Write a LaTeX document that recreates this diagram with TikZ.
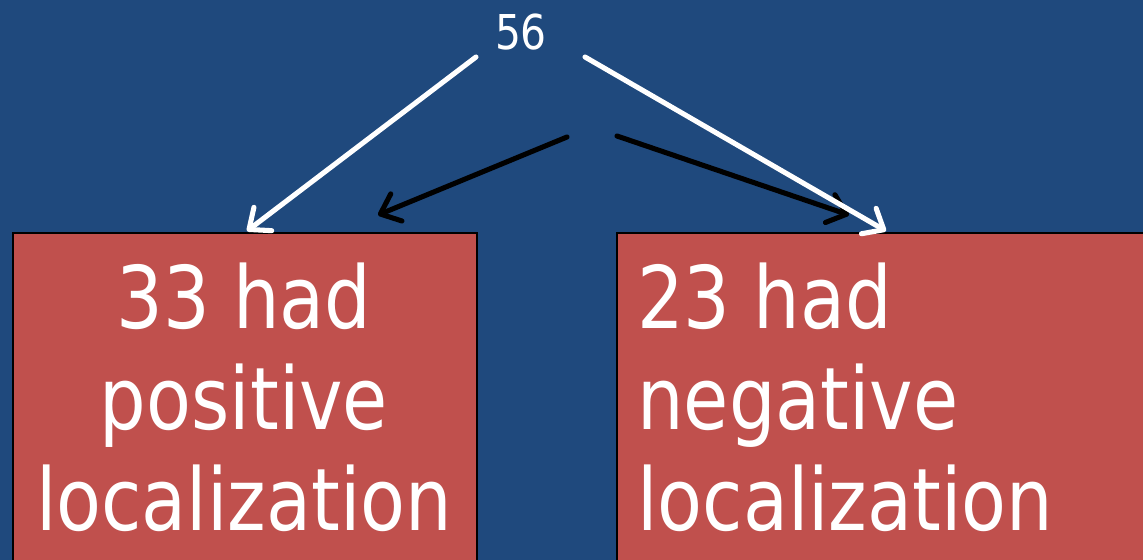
\documentclass[tikz,border=0pt]{standalone}
\usepackage{fontspec}
\setmainfont{DejaVu Sans}[FakeStretch=0.85]
\usetikzlibrary{arrows.meta}
\definecolor{bgblue}{RGB}{31,73,125}
\definecolor{boxred}{RGB}{192,80,77}
\tikzset{
  outcome/.style={draw=black, line width=1.2pt, fill=boxred, anchor=north west,
    minimum height=300pt, inner sep=0pt},
  boxtext/.style={text=white, inner sep=0pt, font=\fontsize{64.8}{75.75}\selectfont},
  flow/.style={line width=3.8pt, line cap=round, line join=round,
    -{Straight Barb[length=13pt,width=22pt,line cap=round,line join=round]}},
  whiteflow/.style={flow, draw=white},
  blackflow/.style={flow, draw=black},
}
\begin{document}
\begin{tikzpicture}[x=0.75pt,y=-0.75pt]
  \fill[bgblue] (0,0) rectangle (1143,560);
  \useasboundingbox (0,0) rectangle (1143,560);
  \clip (0,0) rectangle (1143,560);

  % total count
  \node[text=white, inner sep=0pt, anchor=base, font=\fontsize{36}{40}\selectfont]
    (total) at (521,50) {56};

  % the two outcome boxes
  \node[outcome, minimum width=348pt] (pos) at (12,232) {};
  \node[outcome, minimum width=420pt] (neg) at (616,232) {};

  % box labels, anchored at the baseline of their last line
  \node[boxtext, align=center, anchor=base] (postext) at (244,530)
    {33 had\\positive\\localization};
  \node[boxtext, align=left, anchor=base west] (negtext) at (637,530)
    {23 had\\negative\\localization};

  % arrow end points
  \coordinate (wlstart) at (476,57);
  \coordinate (wrstart) at (585,57);
  \coordinate (wlend) at (247,231);
  \coordinate (wrend) at (886,231);
  \coordinate (blstart) at (567,137);
  \coordinate (brstart) at (617,136);
  \coordinate (blend) at (378,215);
  \coordinate (brend) at (849,215);

  \draw[blackflow] (blstart) -- (blend);
  \draw[blackflow] (brstart) -- (brend);
  \draw[whiteflow] (wlstart) -- (wlend);
  \draw[whiteflow] (wrstart) -- (wrend);
\end{tikzpicture}
\end{document}
